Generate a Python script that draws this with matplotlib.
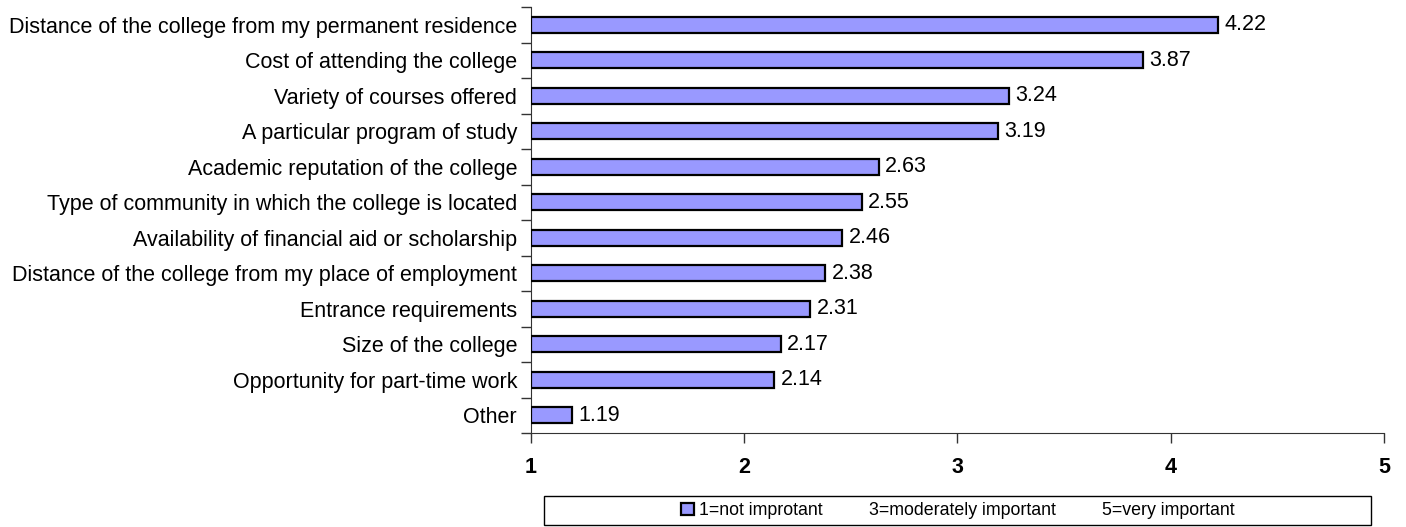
import matplotlib
matplotlib.use("Agg")
import matplotlib.pyplot as plt
from matplotlib.patches import Patch, Rectangle

plt.rcParams['font.family'] = ['Liberation Sans', 'DejaVu Sans']

categories = [
    "Distance of the college from my permanent residence",
    "Cost of attending the college",
    "Variety of courses offered",
    "A particular program of study",
    "Academic reputation of the college",
    "Type of community in which the college is located",
    "Availability of financial aid or scholarship",
    "Distance of the college from my place of employment",
    "Entrance requirements",
    "Size of the college",
    "Opportunity for part-time work",
    "Other",
]
values = [4.22, 3.87, 3.24, 3.19, 2.63, 2.55, 2.46, 2.38, 2.31, 2.17, 2.14, 1.19]
xticks = [1, 2, 3, 4, 5]
legend_labels = ["1=not improtant", "3=moderately important", "5=very important"]

FS = 15.5
fig = plt.figure(figsize=(14.06, 5.27), dpi=100)
ax = fig.add_axes([531/1406, 1-433/527, (1384-531)/1406, (433-7)/527])

n = len(categories)
ypos = list(range(n))
ax.barh(ypos, [v - 1 for v in values], left=1, height=0.44,
        color="#9999FF", edgecolor="black", linewidth=1.6, zorder=3)
for y, v in zip(ypos, values):
    ax.text(v + 0.03, y, f"{v:.2f}", va="center", ha="left", fontsize=FS)

ax.set_ylim(n - 0.5, -0.5)
ax.set_xlim(1, 5)
ax.set_yticks(ypos)
ax.set_yticklabels(categories, fontsize=FS)
ax.tick_params(axis='y', length=0, pad=10)
# boundary ticks
ax.set_yticks([i - 0.5 for i in range(n + 1)], minor=True)
ax.tick_params(axis='y', which='minor', length=7, direction='out', width=1, color='#333333')
ax.set_xticks(xticks)
ax.set_xticklabels([str(t) for t in xticks], fontsize=FS, fontweight='bold')
ax.tick_params(axis='x', length=7, direction='out', width=1, pad=10, color='#333333')
for s in ['top', 'right']:
    ax.spines[s].set_visible(False)
ax.spines['left'].set_color('#333333')
ax.spines['bottom'].set_color('#333333')

handles = [Patch(facecolor="#9999FF", edgecolor="black", linewidth=1.6),
           Patch(facecolor="none", edgecolor="none"),
           Patch(facecolor="none", edgecolor="none")]
fig.legend(handles, legend_labels, ncol=3, loc='center',
           bbox_to_anchor=(958/1406, 1-510.5/527), frameon=False, fontsize=12.8,
           handlelength=0.7, handleheight=0.7, handletextpad=0.3, columnspacing=1.6,
           borderpad=0.1)
fig.patches.append(Rectangle((544/1406, 1-525/527), (1371-544)/1406, 29/527,
                             transform=fig.transFigure, fill=False,
                             edgecolor='black', linewidth=1))

fig.savefig("out.png", dpi=100)
